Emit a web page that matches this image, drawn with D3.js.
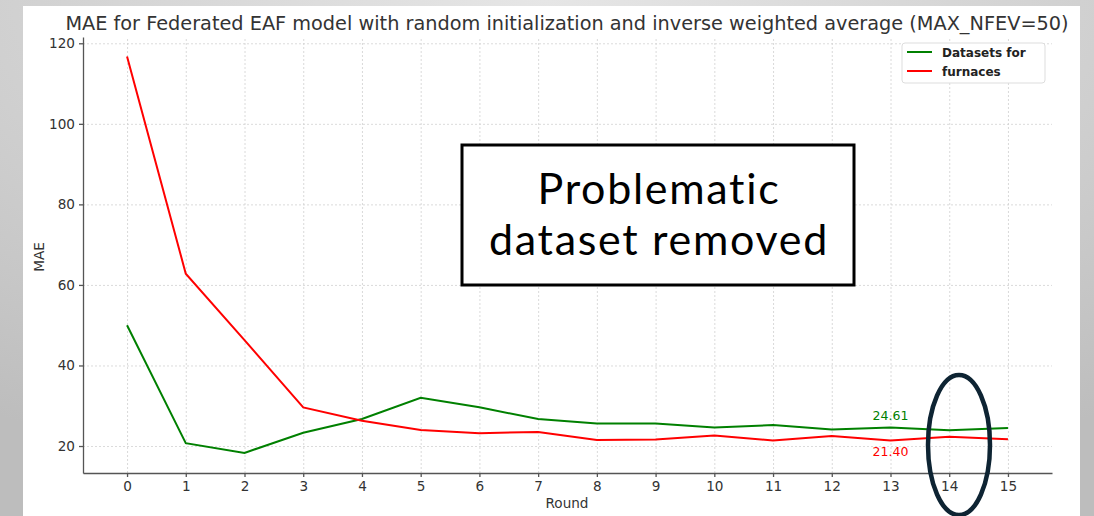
<!DOCTYPE html>
<html lang="en">
<head>
    <meta charset="UTF-8">
    <title>MAE for Federated EAF model</title>
    <script src="https://d3js.org/d3.v7.min.js"></script>
    <style>
        body {
            margin: 0;
            padding: 0;
            overflow: hidden;
        }

        .grid line {
            stroke: #d0d0d0;
            stroke-dasharray: 2,2;
            stroke-width: 0.8px;
        }

        .axis path, .axis line {
            stroke: #555;
            stroke-width: 1.3px;
        }

        .axis text {
            font: 13.6px "DejaVu Sans", sans-serif;
            fill: #333;
        }

        .series {
            fill: none;
            stroke-width: 2px;
        }
    </style>
</head>
<body>
    <div id="chart"></div>

    <script>
        // data
        const rounds = [0, 1, 2, 3, 4, 5, 6, 7, 8, 9, 10, 11, 12, 13, 14, 15];
        const greenMae = [50.0, 20.7, 18.3, 23.3, 26.7, 32.0, 29.6, 26.7, 25.6, 25.6, 24.6, 25.2, 24.1, 24.61, 23.9, 24.5];
        const redMae = [116.7, 62.8, 46.3, 29.6, 26.3, 24.0, 23.2, 23.5, 21.5, 21.6, 22.6, 21.4, 22.5, 21.40, 22.3, 21.7];
        const yTicks = [20, 40, 60, 80, 100, 120];
        const legendLabels = ["Datasets for", "furnaces"];
        const seriesColors = ["green", "red"];
        const annotated = { round: 13, green: "24.61", red: "21.40" };

        const width = 1094;
        const height = 516;

        const svg = d3.select("#chart")
            .append("svg")
            .attr("width", width)
            .attr("height", height);

        // slide background
        const defs = svg.append("defs");
        const grad = defs.append("radialGradient")
            .attr("id", "bg")
            .attr("cx", "50%").attr("cy", "0%").attr("r", "95%");
        grad.append("stop").attr("offset", "0%").attr("stop-color", "#e6e6e6");
        grad.append("stop").attr("offset", "100%").attr("stop-color", "#bdbdbd");

        svg.append("rect")
            .attr("width", width)
            .attr("height", height)
            .attr("fill", "url(#bg)");

        // white picture of the plot
        svg.append("rect")
            .attr("x", 23)
            .attr("y", 6)
            .attr("width", 1057)
            .attr("height", height - 6)
            .attr("fill", "#fff");

        const x = d3.scaleLinear().domain([-0.75, 15.75]).range([83, 1052]);
        const y = d3.scaleLinear().domain([13.3, 121.56]).range([473, 37]);

        // grid
        svg.append("g")
            .attr("class", "grid")
            .attr("transform", "translate(0,473)")
            .call(d3.axisBottom(x).tickValues(rounds).tickSize(-(473 - 37)).tickFormat(""))
            .call(g => g.select(".domain").remove());

        svg.append("g")
            .attr("class", "grid")
            .attr("transform", "translate(83,0)")
            .call(d3.axisLeft(y).tickValues(yTicks).tickSize(-(1052 - 83)).tickFormat(""))
            .call(g => g.select(".domain").remove());

        // axes
        svg.append("g")
            .attr("class", "axis")
            .attr("transform", "translate(0,473)")
            .call(d3.axisBottom(x).tickValues(rounds).tickSize(4).tickSizeOuter(0).tickPadding(4));

        svg.append("g")
            .attr("class", "axis")
            .attr("transform", "translate(83,0)")
            .call(d3.axisLeft(y).tickValues(yTicks).tickSize(4).tickSizeOuter(0).tickPadding(4));

        // lines
        const line = d3.line()
            .x((d, i) => x(rounds[i]))
            .y(d => y(d));

        [greenMae, redMae].forEach((vals, k) => {
            svg.append("path")
                .datum(vals)
                .attr("class", "series")
                .attr("stroke", seriesColors[k])
                .attr("d", line);
        });

        // value labels at round 13
        const i13 = rounds.indexOf(annotated.round);
        svg.append("text")
            .attr("x", x(annotated.round))
            .attr("y", y(greenMae[i13]) - 7)
            .attr("text-anchor", "middle")
            .attr("fill", "green")
            .style("font", "12.5px 'DejaVu Sans', sans-serif")
            .text(annotated.green);

        svg.append("text")
            .attr("x", x(annotated.round))
            .attr("y", y(redMae[i13]) + 16)
            .attr("text-anchor", "middle")
            .attr("fill", "red")
            .style("font", "12.5px 'DejaVu Sans', sans-serif")
            .text(annotated.red);

        // title and axis labels
        svg.append("text")
            .attr("x", 567)
            .attr("y", 30)
            .attr("text-anchor", "middle")
            .attr("fill", "#333")
            .style("font", "19.3px 'DejaVu Sans', sans-serif")
            .text("MAE for Federated EAF model with random initialization and inverse weighted average (MAX_NFEV=50)");

        svg.append("text")
            .attr("transform", "translate(44,257) rotate(-90)")
            .attr("text-anchor", "middle")
            .attr("fill", "#333")
            .style("font", "13.6px 'DejaVu Sans', sans-serif")
            .text("MAE");

        svg.append("text")
            .attr("x", 567)
            .attr("y", 508)
            .attr("text-anchor", "middle")
            .attr("fill", "#333")
            .style("font", "13.6px 'DejaVu Sans', sans-serif")
            .text("Round");

        // legend
        const legend = svg.append("g").attr("transform", "translate(902,43)");
        legend.append("rect")
            .attr("width", 143)
            .attr("height", 40)
            .attr("rx", 3)
            .attr("fill", "#fff")
            .attr("stroke", "#ddd");

        legendLabels.forEach((lab, k) => {
            legend.append("line")
                .attr("x1", 5).attr("x2", 30)
                .attr("y1", 9 + k * 19).attr("y2", 9 + k * 19)
                .attr("stroke", seriesColors[k])
                .attr("stroke-width", 2);
            legend.append("text")
                .attr("x", 40)
                .attr("y", 14 + k * 19)
                .attr("fill", "#222")
                .style("font", "bold 12px 'DejaVu Sans', sans-serif")
                .text(lab);
        });

        // annotation box
        svg.append("rect")
            .attr("x", 462)
            .attr("y", 145)
            .attr("width", 392)
            .attr("height", 140)
            .attr("fill", "#fff")
            .attr("stroke", "#000")
            .attr("stroke-width", 3);

        ["Problematic", "dataset removed"].forEach((t, k) => {
            svg.append("text")
                .attr("x", 659)
                .attr("y", 204 + k * 51)
                .attr("text-anchor", "middle")
                .attr("fill", "#000")
                .style("font", "43px Lato, sans-serif")
                .style("letter-spacing", "1.7px")
                .text(t);
        });

        // ellipse around round 14
        svg.append("ellipse")
            .attr("cx", 959)
            .attr("cy", 445)
            .attr("rx", 31)
            .attr("ry", 70)
            .attr("fill", "none")
            .attr("stroke", "#0e2433")
            .attr("stroke-width", 4.5);
    </script>
</body>
</html>
